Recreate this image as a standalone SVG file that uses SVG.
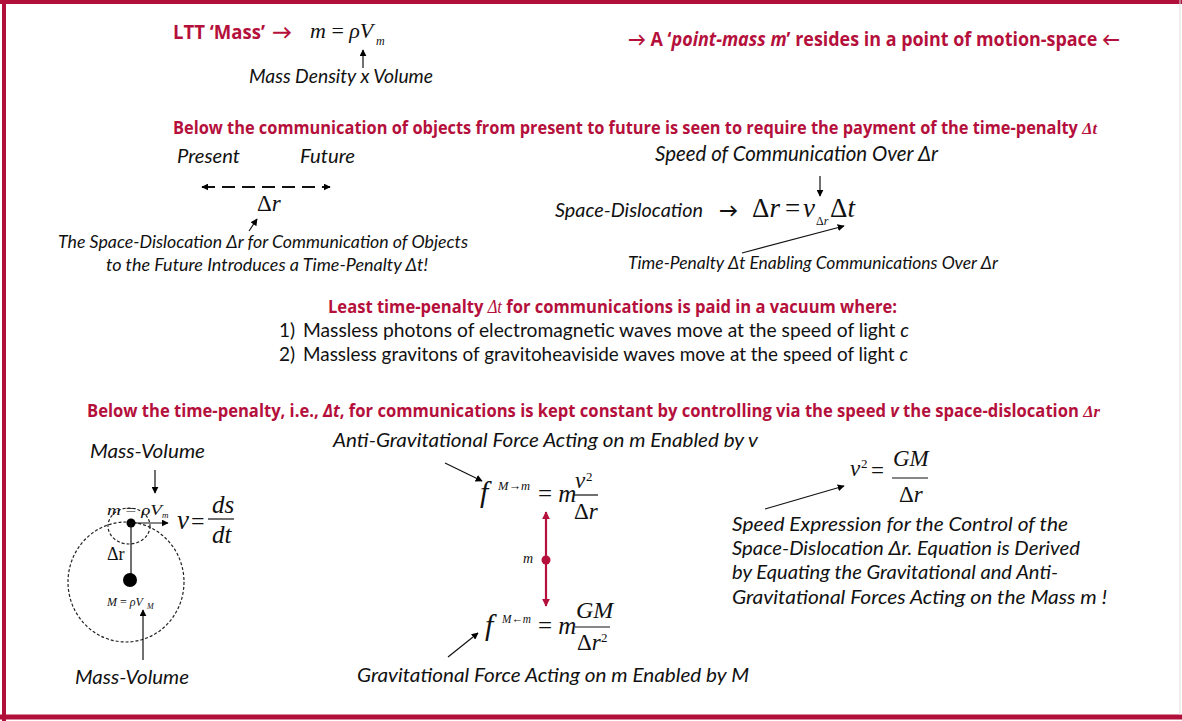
<svg xmlns="http://www.w3.org/2000/svg" width="1182" height="721" viewBox="0 0 1182 721">
<defs>
<marker id="ah" viewBox="0 0 10 10" refX="9" refY="5" markerWidth="7" markerHeight="7" markerUnits="userSpaceOnUse" orient="auto-start-reverse"><path d="M0,0 L10,5 L0,10 z" fill="#000"/></marker>
<marker id="ahr" viewBox="0 0 10 10" refX="9" refY="5" markerWidth="8" markerHeight="8" markerUnits="userSpaceOnUse" orient="auto-start-reverse"><path d="M0,0 L10,5 L0,10 z" fill="#b5103c"/></marker>
<style>
.red{fill:#b5103c;font-family:"Open Sans",Lato,"Liberation Sans",sans-serif;font-weight:bold}
.it{font-family:Lato,"Liberation Sans",sans-serif;font-style:italic;fill:#111}
.rg{font-family:Lato,"Liberation Sans",sans-serif;fill:#111}
.tm{font-family:"Liberation Serif","Times New Roman",serif;font-style:italic;fill:#111}
.tmr{font-family:"Liberation Serif","Times New Roman",serif;fill:#111}
.ln{stroke:#111;stroke-width:1.2;fill:none}
</style>
</defs>
<rect x="0" y="0" width="1182" height="721" fill="#fff"/>
<g id="frame">
<line x1="0" y1="2" x2="1182" y2="2" stroke="#b0103a" stroke-width="4"/>
<line x1="4" y1="0" x2="4" y2="721" stroke="#b0103a" stroke-width="4"/>
<line x1="0" y1="717" x2="1182" y2="717" stroke="#b0103a" stroke-width="5"/>
<line x1="1180" y1="0" x2="1180" y2="715" stroke="#ddd" stroke-width="1"/>
</g>

<g id="ltt-mass">
<text x="173" y="39" class="red" font-size="20" textLength="92" lengthAdjust="spacingAndGlyphs">LTT ‘Mass’</text>
<text x="272" y="39" class="red" font-size="20">→</text>
<text x="310" y="38" class="tm" font-size="22">m<tspan class="tmr" font-style="normal"> = </tspan>ρV</text>
<text x="376" y="45" class="tm" font-size="12">m</text>
<text x="249" y="83" class="it" font-size="20" textLength="184" lengthAdjust="spacingAndGlyphs">Mass Density x Volume</text>
</g>

<g id="point-mass">
<text x="628" y="46" class="red" font-size="19" textLength="492" lengthAdjust="spacingAndGlyphs">→  A ‘<tspan font-style="italic">point-mass m</tspan>’ resides in a point of motion-space ←</text>
</g>

<g id="heading1">
<text x="173" y="134" class="red" font-size="17" textLength="924" lengthAdjust="spacingAndGlyphs">Below the communication of objects from present to future is seen to require the payment of the time-penalty <tspan font-family="Liberation Serif,serif" font-style="italic">Δt</tspan></text>
</g>

<g id="present-future">
<text x="177" y="163" class="it" font-size="20" textLength="63" lengthAdjust="spacingAndGlyphs">Present</text>
<text x="300" y="163" class="it" font-size="20" textLength="55" lengthAdjust="spacingAndGlyphs">Future</text>
<text x="257" y="211" class="tmr" font-size="23">Δ<tspan font-style="italic">r</tspan></text>
<text x="58" y="248" class="it" font-size="17.5" textLength="410" lengthAdjust="spacingAndGlyphs">The Space-Dislocation Δr  for Communication of Objects</text>
<text x="106" y="271" class="it" font-size="17.5" textLength="322" lengthAdjust="spacingAndGlyphs">to the Future Introduces a Time-Penalty Δt!</text>
</g>

<g id="space-dislocation">
<text x="655" y="161" class="it" font-size="21" textLength="283" lengthAdjust="spacingAndGlyphs">Speed of Communication Over Δr</text>
<text x="555" y="217" class="it" font-size="20" textLength="148" lengthAdjust="spacingAndGlyphs">Space-Dislocation</text>
<text x="719" y="217" class="rg" font-size="19" font-weight="bold">→</text>
<text x="752" y="217" class="tmr" font-size="27">Δ<tspan font-style="italic">r</tspan></text>
<text x="785" y="217" class="tmr" font-size="27">=</text>
<text x="803" y="217" class="tm" font-size="27">v</text>
<text x="816" y="225" class="tmr" font-size="12">Δ<tspan font-style="italic">r</tspan></text>
<text x="830" y="217" class="tmr" font-size="27">Δ<tspan font-style="italic">t</tspan></text>
<text x="628" y="269" class="it" font-size="17" textLength="370" lengthAdjust="spacingAndGlyphs">Time-Penalty Δt Enabling Communications Over Δr</text>
</g>

<g id="least-penalty">
<text x="328" y="313" class="red" font-size="18" textLength="569" lengthAdjust="spacingAndGlyphs">Least time-penalty <tspan font-family="Liberation Serif,serif" font-style="italic" font-weight="normal">Δt</tspan> for communications is paid in a vacuum where:</text>
<text x="279" y="337" class="rg" font-size="19">1)</text>
<text x="303" y="337" class="rg" font-size="19" textLength="606" lengthAdjust="spacingAndGlyphs">Massless photons of electromagnetic waves move at the speed of light <tspan font-style="italic">c</tspan></text>
<text x="279" y="361" class="rg" font-size="19">2)</text>
<text x="303" y="361" class="rg" font-size="19" textLength="605" lengthAdjust="spacingAndGlyphs">Massless gravitons of gravitoheaviside waves move at the speed of light <tspan font-style="italic">c</tspan></text>
</g>

<g id="heading2">
<text x="87" y="417" class="red" font-size="17" textLength="1013" lengthAdjust="spacingAndGlyphs">Below the time-penalty, i.e., <tspan font-style="italic">Δt</tspan>, for communications is kept constant by controlling via the speed <tspan font-style="italic">v</tspan> the space-dislocation <tspan font-family="Liberation Serif,serif" font-style="italic">Δr</tspan></text>
</g>

<g id="mass-volume">
<text x="90" y="458" class="it" font-size="20" textLength="115" lengthAdjust="spacingAndGlyphs">Mass-Volume</text>
<ellipse cx="129" cy="526" rx="21" ry="18" fill="none" stroke="#222" stroke-width="1.2" stroke-dasharray="3,2"/>
<ellipse cx="126" cy="582" rx="58" ry="60" fill="none" stroke="#222" stroke-width="1.2" stroke-dasharray="3,2"/>
<text x="107" y="515" class="tm" font-size="15" textLength="55" lengthAdjust="spacingAndGlyphs">m<tspan font-style="normal"> = </tspan>ρV</text>
<text x="162" y="518" class="tm" font-size="9">m</text>
<circle cx="131" cy="523" r="4.5" fill="#000"/>
<line x1="131" y1="523" x2="131" y2="578" class="ln"/>
<circle cx="130" cy="580" r="7" fill="#000"/>
<text x="107" y="560" class="tmr" font-size="18">Δr</text>
<text x="107" y="606" class="tm" font-size="12">M<tspan font-style="normal"> = </tspan>ρV</text>
<text x="147" y="609" class="tm" font-size="8">M</text>
<text x="177" y="529" class="tm" font-size="27">v</text>
<text x="191" y="529" class="tmr" font-size="24">=</text>
<text x="212" y="513" class="tm" font-size="25">ds</text>
<line x1="208" y1="519" x2="234" y2="519" class="ln"/>
<text x="212" y="543" class="tm" font-size="25">dt</text>
<text x="75" y="684" class="it" font-size="20" textLength="114" lengthAdjust="spacingAndGlyphs">Mass-Volume</text>
</g>

<g id="forces">
<text x="333" y="447" class="it" font-size="20" textLength="425" lengthAdjust="spacingAndGlyphs">Anti-Gravitational Force Acting on m Enabled by v</text>
<text x="480" y="502" class="tm" font-size="30">f</text>
<text x="498" y="490" class="tm" font-size="13" textLength="32" lengthAdjust="spacingAndGlyphs">M<tspan font-style="normal">→</tspan>m</text>
<text x="538" y="502" class="tmr" font-size="25">= <tspan font-style="italic">m</tspan></text>
<text x="575" y="488" class="tm" font-size="23">v</text>
<text x="586" y="481" class="tmr" font-size="13">2</text>
<line x1="573" y1="495" x2="598" y2="495" class="ln"/>
<text x="574" y="519" class="tmr" font-size="23">Δ<tspan font-style="italic">r</tspan></text>
<text x="523" y="563" class="tm" font-size="14">m</text>
<circle cx="546" cy="560" r="4.5" fill="#b5103c"/>
<text x="485" y="635" class="tm" font-size="30">f</text>
<text x="502" y="623" class="tm" font-size="13" textLength="29" lengthAdjust="spacingAndGlyphs">M<tspan font-style="normal">←</tspan>m</text>
<text x="538" y="634" class="tmr" font-size="25">= <tspan font-style="italic">m</tspan></text>
<text x="576" y="618" class="tm" font-size="24">GM</text>
<line x1="575" y1="627" x2="610" y2="627" class="ln"/>
<text x="577" y="650" class="tmr" font-size="23">Δ<tspan font-style="italic">r</tspan></text>
<text x="601" y="642" class="tmr" font-size="13">2</text>
<text x="357" y="682" class="it" font-size="20" textLength="392" lengthAdjust="spacingAndGlyphs">Gravitational Force Acting on m Enabled by M</text>
</g>

<g id="speed-expression">
<text x="850" y="476" class="tm" font-size="23">v</text>
<text x="861" y="468" class="tmr" font-size="13">2</text>
<text x="871" y="478" class="tmr" font-size="23">=</text>
<text x="893" y="466" class="tm" font-size="23">GM</text>
<line x1="892" y1="478" x2="928" y2="478" class="ln"/>
<text x="899" y="502" class="tmr" font-size="23">Δ<tspan font-style="italic">r</tspan></text>
<text x="732" y="531" class="it" font-size="20" textLength="336" lengthAdjust="spacingAndGlyphs">Speed Expression for the Control of  the</text>
<text x="732" y="555" class="it" font-size="20" textLength="348" lengthAdjust="spacingAndGlyphs">Space-Dislocation Δr. Equation is Derived</text>
<text x="732" y="579" class="it" font-size="20" textLength="326" lengthAdjust="spacingAndGlyphs">by Equating the Gravitational and Anti-</text>
<text x="732" y="604" class="it" font-size="20" textLength="375" lengthAdjust="spacingAndGlyphs">Gravitational Forces Acting on the Mass m !</text>
</g>

<g id="connectors">
<line x1="363" y1="68" x2="363" y2="50" class="ln" marker-end="url(#ah)"/>
<line x1="202" y1="187" x2="330" y2="187" stroke="#111" stroke-width="1.8" stroke-dasharray="13,7" marker-start="url(#ah)" marker-end="url(#ah)"/>
<line x1="249" y1="231" x2="257" y2="219" class="ln" marker-end="url(#ah)"/>
<line x1="820" y1="176" x2="820" y2="196" class="ln" marker-end="url(#ah)"/>
<line x1="742" y1="253" x2="844" y2="226" class="ln" marker-end="url(#ah)"/>
<line x1="155" y1="470" x2="155" y2="493" class="ln" marker-end="url(#ah)"/>
<line x1="131" y1="523" x2="168" y2="523" class="ln" marker-end="url(#ah)"/>
<line x1="143" y1="660" x2="143" y2="610" class="ln" marker-end="url(#ah)"/>
<line x1="445" y1="463" x2="482" y2="481" class="ln" marker-end="url(#ah)"/>
<line x1="546" y1="512" x2="546" y2="606" stroke="#b5103c" stroke-width="2.2" marker-start="url(#ahr)" marker-end="url(#ahr)"/>
<line x1="448" y1="657" x2="478" y2="633" class="ln" marker-end="url(#ah)"/>
<line x1="765" y1="509" x2="844" y2="486" class="ln" marker-end="url(#ah)"/>
</g>
</svg>
